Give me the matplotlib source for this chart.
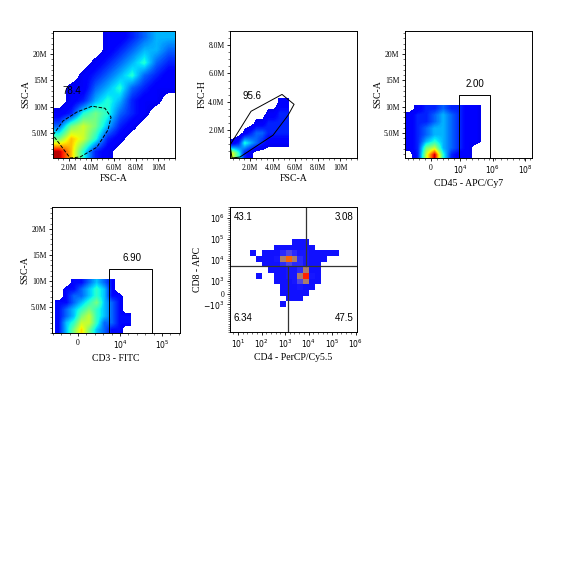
import numpy as np
import matplotlib
matplotlib.use("Agg")
import matplotlib.pyplot as plt
from matplotlib.colors import LinearSegmentedColormap, PowerNorm
from matplotlib.ticker import AutoMinorLocator

# ---------------- data ----------------
# Panel 1: FSC-A vs SSC-A (millions), density grid rows top->bottom
p1_xlim = (0.57, 11.5); p1_ylim = (0.25, 24.4)
p1_density = [
    [0,0,0,0,1,1,2,3,4,4],
    [0,0,0,0,1,2,3,4,4,3],
    [0,0,0,1,2,3,4,5,3,2],
    [0,0,1,2,3,4,5,3,2,1],
    [0,1,1,3,4,5,3,2,1,1],
    [0,1,2,4,5,4,2,1,1,0],
    [1,2,5,6,5,3,2,1,0,0],
    [3,6,7,6,4,2,1,0,0,0],
    [6,8,7,5,2,1,0,0,0,0],
    [10,8,5,2,1,0,0,0,0,0],
]
p1_gate_x = [0.57,1.47,2.72,4.07,5.23,5.77,5.5,4.5,3.0,2.1]
p1_gate_y = [4.6,7.3,9.0,10.1,9.7,8.0,5.6,2.3,0.44,0.25]
p1_pct = "78.4"; p1_pct_xy = (2.27, 13.0)
p1_xticks = [2, 4, 6, 8, 10]; p1_xticklabels = ["2.0M","4.0M","6.0M","8.0M","10M"]
ssc_yticks = [5, 10, 15, 20]; ssc_yticklabels = ["5.0M","10M","15M","20M"]

# Panel 2: FSC-A vs FSC-H
p2_xlim = (0.22, 11.5); p2_ylim = (0.03, 9.0)
p2_data_x = (0.22, 5.4); p2_data_y = (0.03, 4.23)
p2_density = [
    [0,0,0,0,0,0,0,0,1,1],
    [0,0,0,0,0,0,1,1,2,2],
    [0,0,0,0,1,1,2,2,2,2],
    [0,0,1,2,3,3,2,2,2,2],
    [1,2,5,4,3,2,1,1,1,1],
    [7,5,2,1,0,0,0,0,0,0],
]
p2_gate_x = [0.22,2.09,4.84,5.91,5.38,4.04,1.11,0.4]
p2_gate_y = [0.94,3.33,4.52,3.82,3.05,1.64,0.1,0.03]
p2_pct = "95.6"; p2_pct_xy = (2.18, 4.38)
p2_yticks = [2, 4, 6, 8]; p2_yticklabels = ["2.0M","4.0M","6.0M","8.0M"]

# Panel 3: CD45 - APC/Cy7 (decade units) vs SSC-A
p3_xlim = (0.6, 8.43); p3_ylim = (0.25, 24.4)
p3_data_x = (0.6, 5.8); p3_data_y = (0.25, 10.25)
p3_density = [
    [0,1,2,2,3,2,2,1,1,0],
    [1,2,2,3,4,3,2,1,1,0],
    [1,2,2,3,4,3,2,1,1,0],
    [1,2,3,4,4,3,2,1,1,0],
    [1,2,3,4,4,3,2,1,1,0],
    [1,2,4,5,4,3,2,1,1,0],
    [1,2,6,7,4,3,2,1,0,0],
    [0,2,7,10,5,2,1,1,0,0],
]
p3_gate = (3.9, 5.85, 12.2); p3_pct = "2.00"; p3_pct_xy = (4.9, 14.3)
p3_xticks = [2.2, 4, 6, 8]; p3_xticklabels = ["0", r"$10^4$", r"$10^6$", r"$10^8$"]

# Panel 4: CD3 - FITC vs SSC-A
p4_xlim = (2.38, 5.43); p4_ylim = (0.0, 24.2)
p4_data_x = (2.45, 4.25); p4_data_y = (0.0, 10.2)
p4_density = [
    [0,0,1,1,2,3,2,1,0,0],
    [0,1,1,2,3,4,3,1,0,0],
    [0,1,2,2,3,4,3,1,1,0],
    [1,1,2,3,4,5,3,2,1,0],
    [1,2,3,4,5,4,3,2,1,0],
    [1,2,3,5,6,4,3,2,1,1],
    [1,3,4,6,6,4,2,2,1,1],
    [1,3,5,7,5,3,2,1,1,0],
]
p4_gate = (3.74, 4.76, 12.3); p4_pct = "6.90"; p4_pct_xy = (4.29, 14.4)
p4_xticks = [3, 4, 5]; p4_xticklabels = ["0", r"$10^4$", r"$10^5$"]

# Panel 5: CD4 - PerCP/Cy5.5 vs CD8 - APC (decade units)
p5_xlim = (0.66, 6.06); p5_ylim = (0.6, 6.5)
p5_data_x = (1.5, 5.5); p5_data_y = (1.8, 5.0)
p5_density = [
    [0,0,0,0,0,0,0,1,1,1,0,0,0,0,0,0],
    [0,0,0,0,1,2,2,2,2,2,1,0,0,0,0,0],
    [1,0,1,1,2,4,5,4,3,3,2,1,1,1,1,0],
    [0,1,1,2,3,6,8,6,4,3,1,1,1,0,0,0],
    [0,0,1,1,2,4,5,4,4,3,2,1,0,0,0,0],
    [0,0,0,1,1,2,3,3,4,6,2,1,0,0,0,0],
    [0,1,0,0,1,2,3,3,6,9,3,1,0,0,0,0],
    [0,0,0,0,1,1,2,3,5,6,2,1,0,0,0,0],
    [0,0,0,0,0,1,2,2,3,2,1,0,0,0,0,0],
    [0,0,0,0,0,1,1,2,2,1,0,0,0,0,0,0],
    [0,0,0,0,0,0,1,1,1,0,0,0,0,0,0,0],
    [0,0,0,0,0,1,0,0,0,0,0,0,0,0,0,0],
]
p5_hline = 3.7; p5_vline_upper = 3.9; p5_vline_lower = 3.13
p5_quadrants = ["43.1", "3.08", "6.34", "47.5"]
p5_xticks = [1, 2, 3, 4, 5, 6]
p5_xticklabels = [r"$10^1$", r"$10^2$", r"$10^3$", r"$10^4$", r"$10^5$", r"$10^6$"]
p5_yticks = [1.9, 2.4, 3, 4, 5, 6]
p5_yticklabels = [r"$-10^3$", "0", r"$10^3$", r"$10^4$", r"$10^5$", r"$10^6$"]

# ---------------- drawing ----------------
jet = plt.get_cmap("jet")
cmap_den = LinearSegmentedColormap.from_list("den", jet(np.linspace(0.1, 0.95, 256)))
cmap_den.set_under("white")
cmap_dot = LinearSegmentedColormap.from_list(
    "dot", ["#1010ff", "#1010ff", "#3a3aff", "#ffb000", "#ff2000"])
cmap_dot.set_under("white")

SERIF = "Liberation Serif"
SANS = "Liberation Sans"

fig = plt.figure(figsize=(5.63, 5.63), dpi=100)
W = H = 563.0
def make_ax(l, r, t, b):
    return fig.add_axes([l / W, 1 - b / H, (r - l) / W, (b - t) / H])

def style(ax, xlabel, ylabel):
    ax.set_xlabel(xlabel, fontsize=7, family=SERIF, labelpad=2)
    ax.set_ylabel(ylabel, fontsize=7, family=SERIF, labelpad=1)
    ax.tick_params(labelsize=5.5, length=2.5, width=0.6, pad=1.5)
    ax.tick_params(which="minor", length=1.3, width=0.4)
    for lab in ax.get_xticklabels() + ax.get_yticklabels():
        lab.set_family(SERIF)
    for s in ax.spines.values():
        s.set_linewidth(0.7)

def density(ax, grid, xr, yr, cmap=cmap_den, vmax=10, interp="bilinear", gamma=1.4):
    ax.imshow(np.array(grid, float), extent=(xr[0], xr[1], yr[0], yr[1]),
              origin="upper", aspect="auto", cmap=cmap,
              norm=PowerNorm(gamma, vmin=0.6, vmax=vmax),
              interpolation=interp, interpolation_stage="data", zorder=1)

# Panel 1
ax1 = make_ax(53, 175, 31, 158)
density(ax1, p1_density, p1_xlim, p1_ylim)
ax1.plot(p1_gate_x + p1_gate_x[:1], p1_gate_y + p1_gate_y[:1], "k--", lw=0.7)
ax1.text(*p1_pct_xy, p1_pct, fontsize=7, family=SANS, ha="center", va="center")
ax1.set_xlim(p1_xlim); ax1.set_ylim(p1_ylim)
ax1.set_xticks(p1_xticks, p1_xticklabels); ax1.set_yticks(ssc_yticks, ssc_yticklabels)
ax1.xaxis.set_minor_locator(AutoMinorLocator(4)); ax1.yaxis.set_minor_locator(AutoMinorLocator(5))
style(ax1, "FSC-A", "SSC-A")

# Panel 2
ax2 = make_ax(230, 357, 31, 158)
density(ax2, p2_density, p2_data_x, p2_data_y)
ax2.plot(p2_gate_x + p2_gate_x[:1], p2_gate_y + p2_gate_y[:1], "k-", lw=0.7)
ax2.text(*p2_pct_xy, p2_pct, fontsize=7, family=SANS, ha="center", va="center")
ax2.set_xlim(p2_xlim); ax2.set_ylim(p2_ylim)
ax2.set_xticks(p1_xticks, p1_xticklabels); ax2.set_yticks(p2_yticks, p2_yticklabels)
ax2.xaxis.set_minor_locator(AutoMinorLocator(4)); ax2.yaxis.set_minor_locator(AutoMinorLocator(4))
style(ax2, "FSC-A", "FSC-H")

# Panel 3
ax3 = make_ax(405, 532, 31, 158)
density(ax3, p3_density, p3_data_x, p3_data_y)
gx0, gx1, gy = p3_gate
ax3.plot([gx0, gx0, gx1, gx1], [p3_ylim[0], gy, gy, p3_ylim[0]], "k-", lw=0.7)
ax3.text(*p3_pct_xy, p3_pct, fontsize=7, family=SANS, ha="center", va="center")
ax3.set_xlim(p3_xlim); ax3.set_ylim(p3_ylim)
ax3.set_xticks(p3_xticks, p3_xticklabels); ax3.set_yticks(ssc_yticks, ssc_yticklabels)
ax3.xaxis.set_minor_locator(AutoMinorLocator(5)); ax3.yaxis.set_minor_locator(AutoMinorLocator(5))
style(ax3, "CD45 - APC/Cy7", "SSC-A")

# Panel 4
ax4 = make_ax(52, 180, 207, 333)
density(ax4, p4_density, p4_data_x, p4_data_y, gamma=1.0)
gx0, gx1, gy = p4_gate
ax4.plot([gx0, gx0, gx1, gx1], [p4_ylim[0], gy, gy, p4_ylim[0]], "k-", lw=0.7)
ax4.text(*p4_pct_xy, p4_pct, fontsize=7, family=SANS, ha="center", va="center")
ax4.set_xlim(p4_xlim); ax4.set_ylim(p4_ylim)
ax4.set_xticks(p4_xticks, p4_xticklabels); ax4.set_yticks(ssc_yticks, ssc_yticklabels)
ax4.xaxis.set_minor_locator(AutoMinorLocator(5)); ax4.yaxis.set_minor_locator(AutoMinorLocator(5))
style(ax4, "CD3 - FITC", "SSC-A")

# Panel 5
ax5 = make_ax(230, 357, 207, 332)
density(ax5, p5_density, p5_data_x, p5_data_y, cmap=cmap_dot, vmax=9, interp="nearest", gamma=1.0)
ax5.axhline(p5_hline, color="#333333", lw=0.9)
ax5.plot([p5_vline_upper] * 2, [p5_hline, p5_ylim[1]], color="#333333", lw=0.9)
ax5.plot([p5_vline_lower] * 2, [p5_ylim[0], p5_hline], color="#333333", lw=0.9)
ax5.set_xlim(p5_xlim); ax5.set_ylim(p5_ylim)
for txt, (fx, fy, ha, va) in zip(p5_quadrants, [(0.03, 0.96, "left", "top"), (0.97, 0.96, "right", "top"),
                                                (0.03, 0.07, "left", "bottom"), (0.97, 0.07, "right", "bottom")]):
    ax5.text(fx, fy, txt, transform=ax5.transAxes, fontsize=7, family=SANS, ha=ha, va=va)
ax5.set_xticks(p5_xticks, p5_xticklabels); ax5.set_yticks(p5_yticks, p5_yticklabels)
ax5.xaxis.set_minor_locator(AutoMinorLocator(5)); ax5.yaxis.set_minor_locator(AutoMinorLocator(5))
style(ax5, "CD4 - PerCP/Cy5.5", "CD8 - APC")

fig.savefig("out.png", dpi=100, facecolor="white")
